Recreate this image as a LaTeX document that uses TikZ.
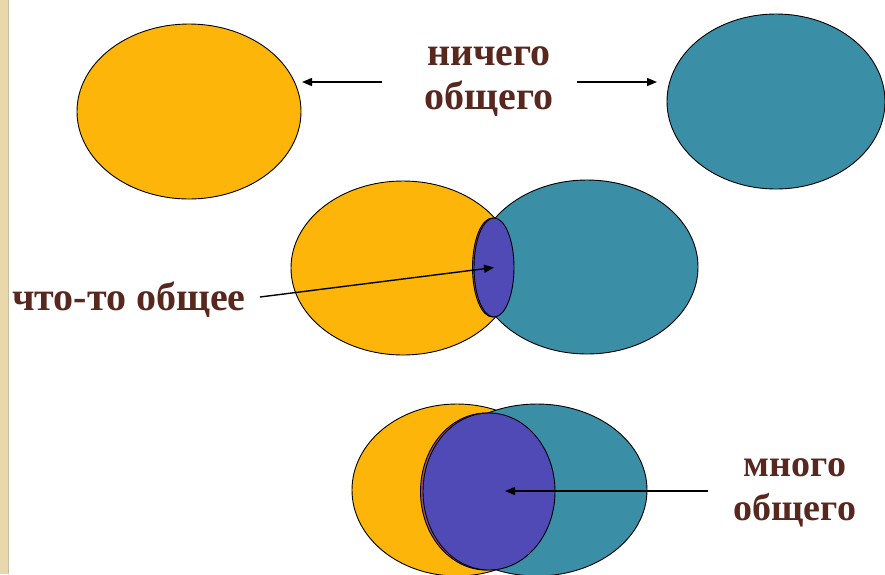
\documentclass[tikz,border=0pt]{standalone}
\usepackage{fontspec}
\setmainfont{Liberation Serif}
\usetikzlibrary{shapes.geometric, arrows.meta, positioning}
\definecolor{setyellow}{RGB}{253,181,10}
\definecolor{setteal}{RGB}{58,143,166}
\definecolor{setviolet}{RGB}{80,74,182}
\definecolor{setrose}{RGB}{160,80,112}
\definecolor{txtbrown}{RGB}{88,40,30}
\definecolor{edgebeige}{RGB}{232,216,172}

\begin{document}
\begin{tikzpicture}[x=1pt, y=-1pt,
  setA/.style={ellipse, draw=black, line width=0.9pt, fill=setyellow, inner sep=0pt},
  setB/.style={ellipse, draw=black, line width=0.9pt, fill=setteal, inner sep=0pt},
  common/.style={ellipse, draw=black, line width=0.9pt, fill=setviolet, inner sep=0pt},
  lbl/.style={font=\fontsize{40}{44}\selectfont\bfseries, text=txtbrown, align=center, inner sep=0pt},
  arr/.style={-{Triangle[length=10pt, width=8pt]}, line width=1.4pt, draw=black}
]
\useasboundingbox (0,0) rectangle (885,574);
\fill[white] (0,0) rectangle (885,574);
% beige strip at the left edge
\fill[edgebeige] (0,0) rectangle (8,574);
\draw[edgebeige!70!gray, line width=1pt] (8.5,0) -- (8.5,574);

% nothing in common
\node[setA, minimum width=224, minimum height=175] (a1) at (189,111.5) {};
\node[setB, minimum width=218, minimum height=175] (b1) at (776,101.5) {};
\node[lbl] (none) at (489,82) {ничего\\общего};
\coordinate (n1) at (382,82);
\coordinate (n1tip) at (302,82);
\coordinate (n2) at (577,82);
\coordinate (n2tip) at (657,82);
\draw[arr] (n1) -- (n1tip);
\draw[arr] (n2) -- (n2tip);

% something in common
\node[setA, minimum width=224, minimum height=174] (a2) at (403,268) {};
\node[setB, minimum width=222, minimum height=174] (b2) at (587,267) {};
\node[common, fill=setrose, minimum width=40, minimum height=99] (r2) at (492.5,267.5) {};
\node[common, minimum width=40, minimum height=99] (c2) at (494,267.5) {};
\node[lbl, anchor=west] (some) at (12,300) {что-то общее};
\coordinate (s1) at (260,297);
\draw[arr] (s1) -- (c2.center);

% a lot in common
\node[setA, minimum width=210, minimum height=172] (a3) at (457,490) {};
\node[setB, minimum width=220, minimum height=172] (b3) at (537,490) {};
\node[common, fill=setrose, minimum width=132, minimum height=157] (r3) at (486.5,491.5) {};
\node[common, minimum width=132, minimum height=157] (c3) at (489,491.5) {};
\node[lbl, font=\fontsize{38}{44}\selectfont\bfseries] (much) at (795,493) {много\\общего};
\coordinate (m1) at (708,491);
\coordinate (m1tip) at (505,491);
\draw[arr] (m1) -- (m1tip);
\end{tikzpicture}
\end{document}
